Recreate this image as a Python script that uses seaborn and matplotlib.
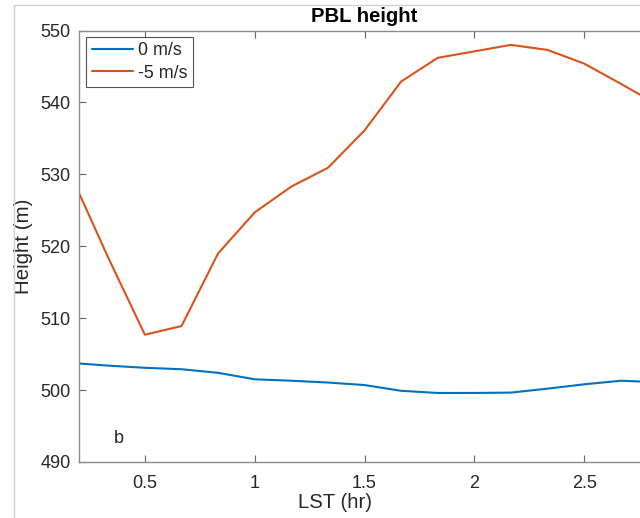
import matplotlib
matplotlib.use("Agg")
import matplotlib.pyplot as plt
from matplotlib.patches import Rectangle
import numpy as np
import pandas as pd
import seaborn as sns

# Local solar time (hr), sampled every 10 minutes
lst_hr = [0.2, 1/3, 0.5, 2/3, 5/6, 1.0, 7/6, 4/3, 1.5, 5/3, 11/6, 2.0, 13/6, 7/3, 2.5, 8/3, 17/6]

# PBL height (m) for each background wind
pbl_0ms = [503.7, 503.4, 503.1, 502.9, 502.4, 501.5, 501.3, 501.05, 500.7, 499.9,
           499.6, 499.6, 499.65, 500.2, 500.8, 501.3, 501.1]
pbl_m5ms = [527.4, 518.4, 507.7, 508.9, 519.0, 524.7, 528.3, 530.9, 536.1, 542.9,
            546.2, 547.1, 548.0, 547.3, 545.4, 542.6, 539.7]

series_names = ["0 m/s", "-5 m/s"]
series_colors = ["#0072BD", "#D95319"]

df = pd.concat([
    pd.DataFrame({"LST": lst_hr, "Height": pbl_0ms, "wind": series_names[0]}),
    pd.DataFrame({"LST": lst_hr, "Height": pbl_m5ms, "wind": series_names[1]}),
])

sns.set_theme(style="white")
plt.rcParams["font.family"] = ["Liberation Sans", "DejaVu Sans"]

fig = plt.figure(figsize=(6.4, 5.18), dpi=100)
fig.patch.set_facecolor("white")
ax = fig.add_axes([79/640, 1 - 462/518, (650 - 79)/640, (462 - 30.5)/518])

sns.lineplot(data=df, x="LST", y="Height", hue="wind", hue_order=series_names,
             palette=series_colors, linewidth=1.5, ax=ax, sort=False,
             estimator=None, legend=False)

ax.set_xlim(0.2, 2.8)
ax.set_ylim(490, 550)
ax.set_xticks([0.5, 1, 1.5, 2, 2.5])
ax.set_xticklabels(["0.5", "1", "1.5", "2", "2.5"])
ax.set_yticks([490, 500, 510, 520, 530, 540, 550])

for s in ax.spines.values():
    s.set_color("#8a8a8a")
    s.set_linewidth(1.0)
ax.tick_params(direction="in", length=5, width=0.8, color="#666666",
               labelsize=13, labelcolor="#262626", top=True, right=True,
               left=True, bottom=True)
ax.tick_params(axis="y", pad=6)
ax.tick_params(axis="x", pad=9)

ax.set_xlabel("LST (hr)", fontsize=14.6, color="#262626", labelpad=2)
ax.xaxis.set_label_coords(0.448, -0.072)
ax.set_ylabel("Height (m)", fontsize=14.8, color="#262626", labelpad=5)
ax.set_title("PBL height", fontsize=14.6, fontweight="bold", color="black", pad=6)

ax.text(0.382, 493.3, "b", fontsize=13, color="#262626", ha="center", va="center")

handles = [plt.Line2D([], [], color=c, linewidth=1.5) for c in series_colors]
leg = ax.legend(handles, series_names, loc="upper left", fontsize=12.9,
                frameon=True, fancybox=False, edgecolor="#262626",
                bbox_to_anchor=(0.013, 0.985), handlelength=2.3,
                borderpad=0.3, labelspacing=0.3, handletextpad=0.3,
                borderaxespad=0.0)
leg.get_frame().set_linewidth(0.8)

# outer frame of the figure panel
fig.patches.append(Rectangle((14/640, -0.1), 1.2, 1 - 5/518 + 0.1,
                             transform=fig.transFigure, fill=False,
                             edgecolor="#d0d0d0", linewidth=1.0, zorder=0))

fig.savefig("out.png", dpi=100, facecolor="white")
